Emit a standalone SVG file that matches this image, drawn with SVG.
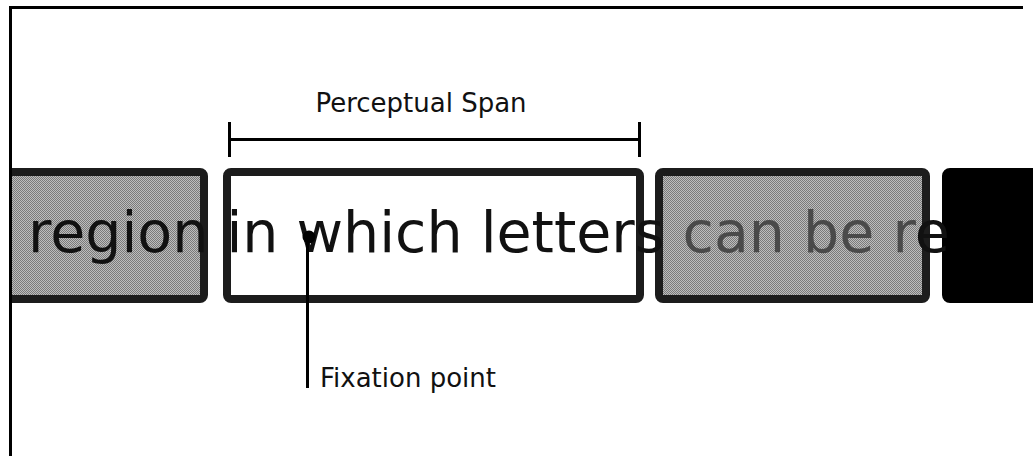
<svg xmlns="http://www.w3.org/2000/svg" width="1033" height="456" viewBox="0 0 1033 456">
<style>
.box{stroke:#1e1e1e;stroke-width:8;filter:url(#soft)}
.lbl{font-family:"DejaVu Sans",Verdana,sans-serif;font-size:26px;fill:#111}
.big{font-family:"DejaVu Sans",Verdana,sans-serif;font-size:57px}
.ln{stroke:#000;stroke-width:3;fill:none}
</style>
<defs>
<pattern id="dots" width="2" height="2" patternUnits="userSpaceOnUse">
<rect width="2" height="2" fill="#bdbdbd"/>
<rect width="1" height="1" fill="#7a7a7a"/>
<rect x="1" y="1" width="1" height="1" fill="#7a7a7a"/>
</pattern>
<filter id="soft" x="-5%" y="-5%" width="110%" height="110%"><feGaussianBlur stdDeviation="0.7"/></filter>
<clipPath id="frameclip"><rect x="12" y="9" width="1022" height="447"/></clipPath>
</defs>
<rect width="1033" height="456" fill="#fff"/>
<g clip-path="url(#frameclip)">
<g id="box-region"><rect class="box" x="-40" y="172" width="244" height="127" rx="4" fill="url(#dots)"/></g>
<g id="box-span"><rect class="box" x="227" y="172" width="413" height="127" rx="4" fill="#fff"/></g>
<g id="box-right"><rect class="box" x="659" y="172" width="267" height="127" rx="4" fill="url(#dots)"/></g>
<g id="box-black"><rect class="box" x="946" y="172" width="200" height="127" rx="4" fill="#000" style="stroke:#000"/></g>
<g id="sentence"><text class="big" x="28" y="252" fill="#111">region in which letters <tspan fill="#4a4a4a">can be r</tspan>e</text></g>
</g>
<path d="M10.5 456V7.5H1023" stroke="#000" stroke-width="3" fill="none"/>
<g id="connectors">
<path class="ln" d="M229.5 122V157M229.5 139.5H639.5M639.5 122V157"/>
<path class="ln" d="M307.5 237V388"/>
</g>
<g id="fixation"><circle cx="309" cy="237" r="6.5" fill="#000"/></g>
<g id="label-span"><text class="lbl" x="421" y="112" text-anchor="middle">Perceptual Span</text></g>
<g id="label-fixation"><text class="lbl" x="320" y="387">Fixation point</text></g>
</svg>
